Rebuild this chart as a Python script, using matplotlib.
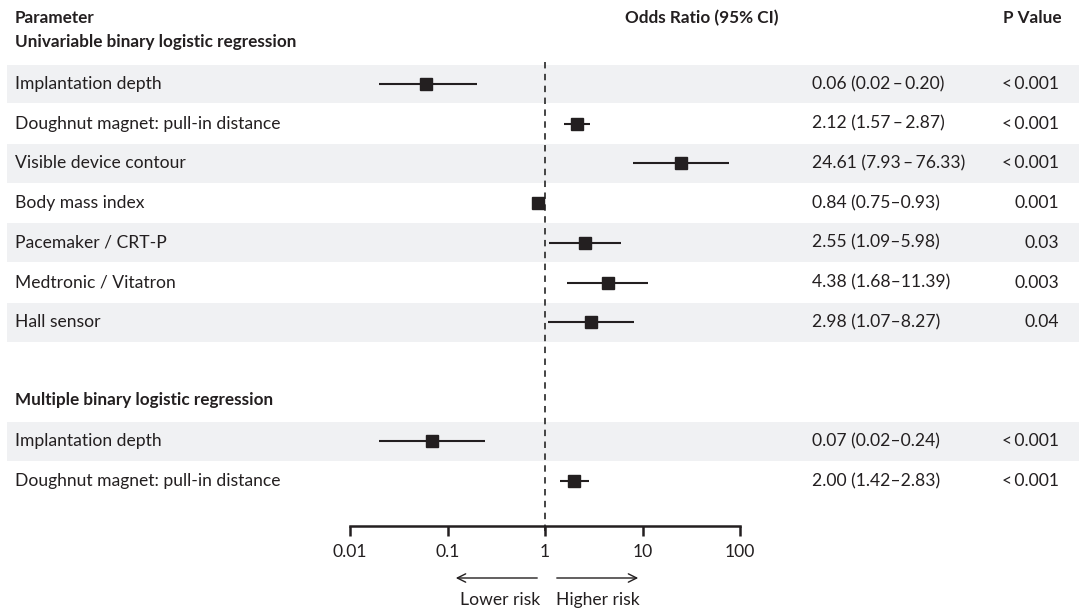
import matplotlib
matplotlib.use("Agg")
import matplotlib.pyplot as plt
from matplotlib.patches import Rectangle, FancyArrowPatch

plt.rcParams['font.family'] = ['Lato', 'DejaVu Sans']

# ---- data ----
uni_labels = ["Implantation depth", "Doughnut magnet: pull-in distance", "Visible device contour",
              "Body mass index", "Pacemaker / CRT-P", "Medtronic / Vitatron", "Hall sensor"]
uni_or = [0.06, 2.12, 24.61, 0.84, 2.55, 4.38, 2.98]
uni_lo = [0.02, 1.57, 7.93, 0.75, 1.09, 1.68, 1.07]
uni_hi = [0.20, 2.87, 76.33, 0.93, 5.98, 11.39, 8.27]
uni_ci_text = ["0.06 (0.02\u2009\u2013\u20090.20)", "2.12 (1.57\u2009\u2013\u20092.87)",
               "24.61 (7.93\u2009\u2013\u200976.33)", "0.84 (0.75\u20130.93)", "2.55 (1.09\u20135.98)",
               "4.38 (1.68\u201311.39)", "2.98 (1.07\u20138.27)"]
uni_p = ["<\u20090.001", "<\u20090.001", "<\u20090.001", "0.001", "0.03", "0.003", "0.04"]

multi_labels = ["Implantation depth", "Doughnut magnet: pull-in distance"]
multi_or = [0.07, 2.00]
multi_lo = [0.02, 1.42]
multi_hi = [0.24, 2.83]
multi_ci_text = ["0.07 (0.02\u20130.24)", "2.00 (1.42\u20132.83)"]
multi_p = ["<\u20090.001", "<\u20090.001"]

xticks = [0.01, 0.1, 1, 10, 100]
xticklabels = ["0.01", "0.1", "1", "10", "100"]

# ---- layout (pixels) ----
W, H = 1079, 612
pitch = 39.7
row0 = 84.0
axis_y = 526.0
x_left, x_right = 350.0, 740.0

fig = plt.figure(figsize=(W / 100, H / 100), dpi=100)
ax = fig.add_axes([x_left / W, 1 - axis_y / H, (x_right - x_left) / W, axis_y / H])
ax.set_xscale('log')
ax.set_xlim(0.01, 100)
ytop = -row0 / pitch
ybot = (axis_y - row0) / pitch
ax.set_ylim(ybot, ytop)
ax.patch.set_alpha(0)

def ax_x(px):
    return (px - x_left) / (x_right - x_left)

trans = ax.get_yaxis_transform()
dark = '#231f20'
shade = '#f0f1f3'

uni_rows = list(range(len(uni_labels)))
multi_rows = [r + 9 for r in range(len(multi_labels))]

# shading
for rows in (uni_rows, multi_rows):
    for i, r in enumerate(rows):
        if i % 2 == 0:
            ax.add_patch(Rectangle((ax_x(7), r - 0.49), ax_x(W) - ax_x(7), 0.98, transform=trans,
                                   facecolor=shade, edgecolor='none', clip_on=False, zorder=0))

# reference line
ax.plot([1, 1], [ytop + 62 / pitch, ybot + 7 / pitch], ls=(0, (3.3, 2.8)), color='#444444',
        lw=1.4, clip_on=False, zorder=1)

# estimates
def draw(rows, ors, los, his):
    for r, o, l, h in zip(rows, ors, los, his):
        ax.plot([l, h], [r, r], color=dark, lw=1.5, zorder=2, solid_capstyle='butt')
        ax.plot([o], [r], marker='s', ms=8.5, color=dark, zorder=3)

draw(uni_rows, uni_or, uni_lo, uni_hi)
draw(multi_rows, multi_or, multi_lo, multi_hi)

fs = 12.6
hfs = 12.3
# labels
for r, lab, ci, p in zip(uni_rows + multi_rows, uni_labels + multi_labels,
                         uni_ci_text + multi_ci_text, uni_p + multi_p):
    ax.text(ax_x(15), r, lab, transform=trans, fontsize=fs, color=dark, va='center', ha='left', clip_on=False)
    ax.text(ax_x(812), r, ci, transform=trans, fontsize=fs, color=dark, va='center', ha='left', clip_on=False)
    ax.text(ax_x(1059), r, p, transform=trans, fontsize=fs, color=dark, va='center', ha='right', clip_on=False)

# headers
ax.text(ax_x(15), ytop + 18 / pitch, "Parameter", transform=trans, fontsize=hfs, fontweight='bold',
        color=dark, va='center', ha='left')
ax.text(ax_x(15), -1.05, "Univariable binary logistic regression", transform=trans, fontsize=hfs,
        fontweight='bold', color=dark, va='center', ha='left')
ax.text(ax_x(15), 7.96, "Multiple binary logistic regression", transform=trans, fontsize=hfs,
        fontweight='bold', color=dark, va='center', ha='left')
ax.text(ax_x(702), ytop + 18 / pitch, "Odds Ratio (95% CI)", transform=trans, fontsize=hfs,
        fontweight='bold', color=dark, va='center', ha='center')
ax.text(ax_x(1062), ytop + 18 / pitch, "P Value", transform=trans, fontsize=hfs,
        fontweight='bold', color=dark, va='center', ha='right')

# axis
for s in ['top', 'left', 'right']:
    ax.spines[s].set_visible(False)
ax.spines['bottom'].set_linewidth(1.8)
ax.spines['bottom'].set_color(dark)
ax.set_yticks([])
ax.set_xticks(xticks)
ax.set_xticklabels(xticklabels, fontsize=fs, color=dark)
ax.minorticks_off()
ax.tick_params(axis='x', direction='out', length=7, width=1.8, color=dark, pad=6)

# risk arrows
fig.add_artist(FancyArrowPatch((540 / W, 1 - 578 / H), (453 / W, 1 - 578 / H),
               transform=fig.transFigure, arrowstyle='->,head_length=6,head_width=3', lw=1.0, color=dark,
               mutation_scale=1))
fig.add_artist(FancyArrowPatch((554 / W, 1 - 578 / H), (641 / W, 1 - 578 / H),
               transform=fig.transFigure, arrowstyle='->,head_length=6,head_width=3', lw=1.0, color=dark,
               mutation_scale=1))
fig.text(540 / W, 1 - 600 / H, "Lower risk", fontsize=fs, color=dark, ha='right', va='center')
fig.text(556 / W, 1 - 600 / H, "Higher risk", fontsize=fs, color=dark, ha='left', va='center')

fig.savefig("out.png", dpi=100)
